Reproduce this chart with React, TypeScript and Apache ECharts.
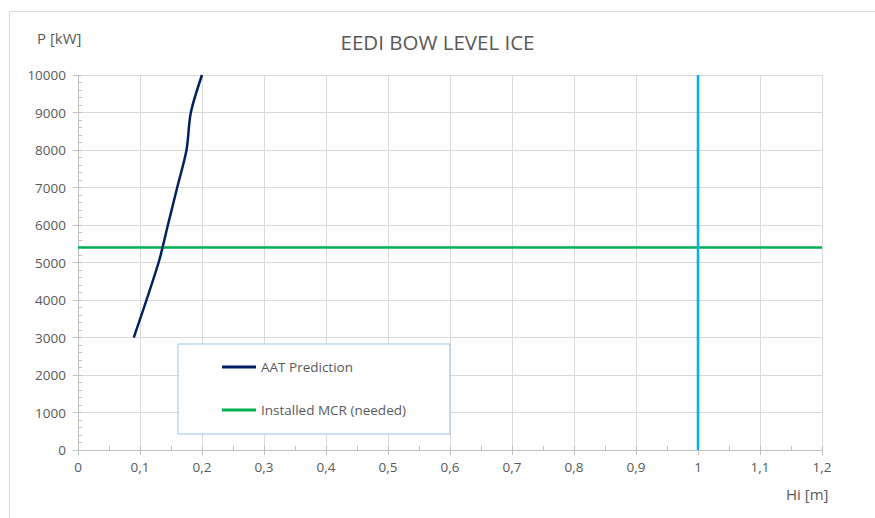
import React, { useEffect, useRef } from "react";
import * as echarts from "echarts";

const aatX = [0.09, 0.13, 0.145, 0.16, 0.175, 0.182, 0.2];
const aatY = [3000, 5000, 6000, 7000, 8000, 9000, 10000];
const mcrX = [0, 1.2];
const mcrY = [5400, 5400];
const limitX = [1, 1];
const limitY = [0, 10000];
const seriesNames = ["AAT Prediction", "Installed MCR (needed)"];

const TXT = "#595959";
const FONT = "'Open Sans', 'Noto Sans', sans-serif";

export default function App() {
  const ref = useRef<HTMLDivElement>(null);
  useEffect(() => {
    document.body.style.margin = "0";
    const chart = echarts.init(ref.current!, null, { renderer: "svg" });
    const fmt = (v: number) => String(Math.round(v * 100) / 100).replace(".", ",");
    chart.setOption({
      animation: false,
      textStyle: { fontFamily: FONT },
      title: {
        text: "EEDI BOW LEVEL ICE",
        left: "center",
        top: 26,
        textStyle: { fontFamily: FONT, fontSize: 20.5, fontWeight: "normal", color: TXT },
      },
      graphic: [
        {
          type: "rect",
          shape: { x: 9.5, y: 11.5, width: 900, height: 600 },
          style: { fill: "none", stroke: "#d9d9d9", lineWidth: 1 },
          silent: true,
          z: -1,
        },
        {
          type: "text",
          left: 37,
          top: 30,
          style: { text: "P [kW]", fontFamily: FONT, fontSize: 15, fill: TXT },
        },
        {
          type: "text",
          left: 786,
          top: 486,
          style: { text: "Hi [m]", fontFamily: FONT, fontSize: 15, fill: TXT },
        },
      ],
      legend: {
        data: seriesNames,
        orient: "vertical",
        left: 178,
        top: 344,
        padding: [16, 44, 17, 44],
        itemGap: 29,
        itemWidth: 34,
        itemHeight: 3,
        icon: "rect",
        borderColor: "#9dc3e6",
        borderWidth: 1,
        backgroundColor: "#ffffff",
        textStyle: { fontFamily: FONT, fontSize: 13.5, color: TXT },
      },
      grid: { left: 78, right: 53, top: 75, bottom: 68 },
      xAxis: [
        {
          type: "value",
          min: 0,
          max: 1.2,
          interval: 0.1,
          axisLine: { lineStyle: { color: "#bfbfbf" } },
          axisTick: { show: true, length: 5, lineStyle: { color: "#bfbfbf" } },
          axisLabel: { formatter: fmt, color: TXT, fontSize: 13.5, margin: 10, fontFamily: FONT },
          splitLine: { show: true, lineStyle: { color: "#d9d9d9" } },
        },
        {
          type: "value",
          min: 0,
          max: 1.2,
          interval: 0.05,
          position: "bottom",
          axisLine: { show: false },
          axisTick: { show: true, inside: true, length: 4, lineStyle: { color: "#bfbfbf" } },
          axisLabel: { show: false },
          splitLine: { show: false },
        },
      ],
      yAxis: [
        {
          type: "value",
          min: 0,
          max: 10000,
          interval: 1000,
          axisLine: { show: true, lineStyle: { color: "#bfbfbf" } },
          axisTick: { show: true, length: 5, lineStyle: { color: "#bfbfbf" } },
          axisLabel: {
            formatter: (v: number) => String(v),
            color: TXT,
            fontSize: 13.5,
            margin: 12,
            fontFamily: FONT,
          },
          splitLine: { show: true, lineStyle: { color: "#d9d9d9" } },
        },
        {
          type: "value",
          min: 0,
          max: 10000,
          interval: 200,
          position: "left",
          axisLine: { show: false },
          axisTick: { show: true, inside: true, length: 4, lineStyle: { color: "#bfbfbf" } },
          axisLabel: { show: false },
          splitLine: { show: false },
        },
      ],
      series: [
        {
          name: seriesNames[0],
          type: "line",
          data: aatX.map((x, i) => [x, aatY[i]]),
          symbol: "none",
          smooth: 0.3,
          lineStyle: { color: "#002060", width: 2.5 },
          itemStyle: { color: "#002060" },
          z: 3,
        },
        {
          name: seriesNames[1],
          type: "line",
          data: mcrX.map((x, i) => [x, mcrY[i]]),
          symbol: "none",
          lineStyle: { color: "#00b050", width: 2.5 },
          itemStyle: { color: "#00b050" },
          z: 2,
        },
        {
          name: "Limit",
          type: "line",
          data: limitX.map((x, i) => [x, limitY[i]]),
          symbol: "none",
          lineStyle: { color: "#00b0f0", width: 2.5 },
          itemStyle: { color: "#00b0f0" },
          z: 2,
        },
      ],
    });
    return () => chart.dispose();
  }, []);
  return <div ref={ref} style={{ width: 875, height: 518 }} />;
}
